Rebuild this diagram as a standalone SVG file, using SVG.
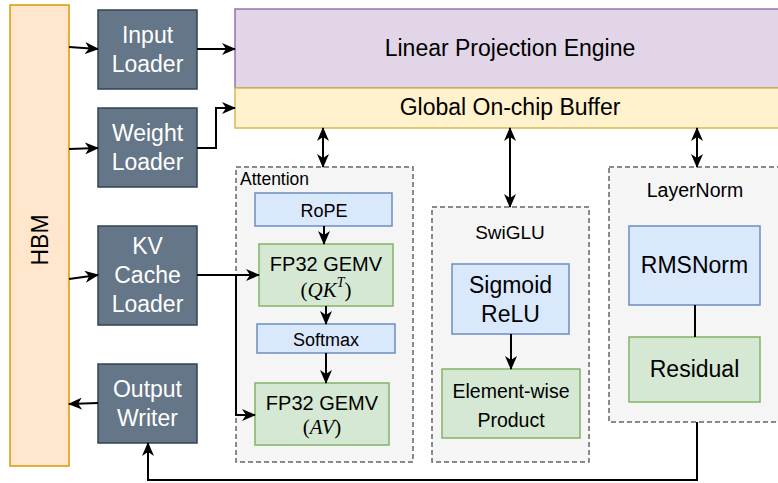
<svg xmlns="http://www.w3.org/2000/svg" width="778" height="483" viewBox="0 0 778 483">
  <defs>
    <marker id="arrow" viewBox="0 0 14 12" refX="13" refY="6" markerWidth="14" markerHeight="12" markerUnits="userSpaceOnUse" orient="auto-start-reverse">
      <path d="M0,0 L14,6 L0,12 L4,6 z" fill="#000"/>
    </marker>
  </defs>
  <style>
    text { font-family: "Liberation Sans", Arial, sans-serif; fill: #000; text-anchor: middle; dominant-baseline: central; }
    text.left { text-anchor: start; }
    .hbm { fill: #ffe6cc; stroke: #d79b00; stroke-width: 1.5; }
    .io { fill: #647687; stroke: #314354; stroke-width: 1.5; }
    .io-t { fill: #fff; font-size: 23px; }
    .big { font-size: 23px; }
    .lpe { fill: #e1d5e7; stroke: #9673a6; stroke-width: 1.5; }
    .buf { fill: #fff2cc; stroke: #d6b656; stroke-width: 1.5; }
    .grp { fill: #f5f5f5; stroke: #666; stroke-width: 1.5; stroke-dasharray: 5 3; }
    .blue { fill: #dae8fc; stroke: #6c8ebf; stroke-width: 1.5; }
    .green { fill: #d5e8d4; stroke: #82b366; stroke-width: 1.5; }
    .math { font-family: "Liberation Serif", "DejaVu Serif", serif; font-size: 21px; }
    .edge { fill: none; stroke: #000; stroke-width: 2; }
    .a { marker-end: url(#arrow); }
    .aa { marker-start: url(#arrow); marker-end: url(#arrow); }
  </style>

  <g id="hbm">
    <rect class="hbm" x="10" y="5" width="59" height="461"/>
    <text class="big" x="40" y="240" transform="rotate(-90 40 240)">HBM</text>
  </g>

  <g id="input-loader">
    <rect class="io" x="98" y="10" width="99" height="79"/>
    <text class="io-t" x="147.5" y="35">Input</text>
    <text class="io-t" x="147.5" y="64">Loader</text>
  </g>
  <g id="weight-loader">
    <rect class="io" x="98" y="108" width="99" height="79"/>
    <text class="io-t" x="147.5" y="133">Weight</text>
    <text class="io-t" x="147.5" y="162">Loader</text>
  </g>
  <g id="kv-cache-loader">
    <rect class="io" x="98" y="226" width="99" height="99"/>
    <text class="io-t" x="147.5" y="246">KV</text>
    <text class="io-t" x="147.5" y="275">Cache</text>
    <text class="io-t" x="147.5" y="304">Loader</text>
  </g>
  <g id="output-writer">
    <rect class="io" x="98" y="364" width="99" height="79"/>
    <text class="io-t" x="147.5" y="389">Output</text>
    <text class="io-t" x="147.5" y="418">Writer</text>
  </g>

  <g id="linear-projection-engine">
    <rect class="lpe" x="235" y="9" width="550" height="79"/>
    <text class="big" x="510" y="48">Linear Projection Engine</text>
  </g>
  <g id="global-buffer">
    <rect class="buf" x="235" y="88" width="550" height="40"/>
    <text class="big" x="510" y="107">Global On-chip Buffer</text>
  </g>

  <g id="attention">
    <rect class="grp" x="236" y="167" width="177" height="295"/>
    <text class="left" x="240" y="179" font-size="17.5">Attention</text>
  </g>
  <g id="rope">
    <rect class="blue" x="255" y="193" width="137" height="33"/>
    <text x="324" y="211" font-size="18">RoPE</text>
  </g>
  <g id="gemv-qk">
    <rect class="green" x="259" y="244" width="134" height="62"/>
    <text x="326" y="264" font-size="20">FP32 GEMV</text>
    <text class="math" x="326" y="290">(<tspan font-style="italic">QK</tspan><tspan font-size="14" font-style="italic" dy="-8">T</tspan><tspan dy="8">)</tspan></text>
  </g>
  <g id="softmax">
    <rect class="blue" x="257" y="324" width="138" height="29"/>
    <text x="326" y="340" font-size="18">Softmax</text>
  </g>
  <g id="gemv-av">
    <rect class="green" x="255" y="383" width="134" height="62"/>
    <text x="322" y="403" font-size="20">FP32 GEMV</text>
    <text class="math" x="322" y="427">(<tspan font-style="italic">AV</tspan>)</text>
  </g>

  <g id="swiglu">
    <rect class="grp" x="432" y="207" width="157" height="255"/>
    <text x="510" y="232" font-size="19">SwiGLU</text>
  </g>
  <g id="sigmoid-relu">
    <rect class="blue" x="452" y="264" width="117" height="70"/>
    <text class="big" x="510.5" y="285">Sigmoid</text>
    <text class="big" x="510.5" y="314">ReLU</text>
  </g>
  <g id="elementwise-product">
    <rect class="green" x="442" y="369" width="138" height="69"/>
    <text x="511" y="391" font-size="19.5">Element-wise</text>
    <text x="511" y="420" font-size="19.5">Product</text>
  </g>

  <g id="layernorm">
    <rect class="grp" x="609" y="167" width="180" height="255"/>
    <text x="695" y="190" font-size="19.5">LayerNorm</text>
  </g>
  <g id="rmsnorm">
    <rect class="blue" x="629" y="226" width="131" height="79"/>
    <text class="big" x="694.5" y="265">RMSNorm</text>
  </g>
  <g id="residual">
    <rect class="green" x="629" y="337" width="131" height="65"/>
    <text class="big" x="694.5" y="369">Residual</text>
  </g>

  <g id="connectors">
    <path class="edge a" d="M69,47 L98,49"/>
    <path class="edge a" d="M69,149 L98,148"/>
    <path class="edge a" d="M69,279 L98,275"/>
    <path class="edge a" d="M98,403 L69,404"/>
    <path class="edge a" d="M197,49 L235,49"/>
    <path class="edge a" d="M197,148 L216,148 L216,108 L235,108"/>
    <path class="edge a" d="M197,275 L259,275"/>
    <path class="edge a" d="M236,275 L236,415 L255,415"/>
    <path class="edge aa" d="M323,128 L323,167"/>
    <path class="edge aa" d="M510,128 L510,207"/>
    <path class="edge aa" d="M697,128 L697,167"/>
    <path class="edge a" d="M324,226 L324,244"/>
    <path class="edge a" d="M326,306 L326,324"/>
    <path class="edge a" d="M326,353 L326,383"/>
    <path class="edge a" d="M511,334 L511,369"/>
    <path class="edge" d="M695,305 L695,337"/>
    <path class="edge a" d="M697,422 L697,480 L148,480 L148,443"/>
  </g>
</svg>
